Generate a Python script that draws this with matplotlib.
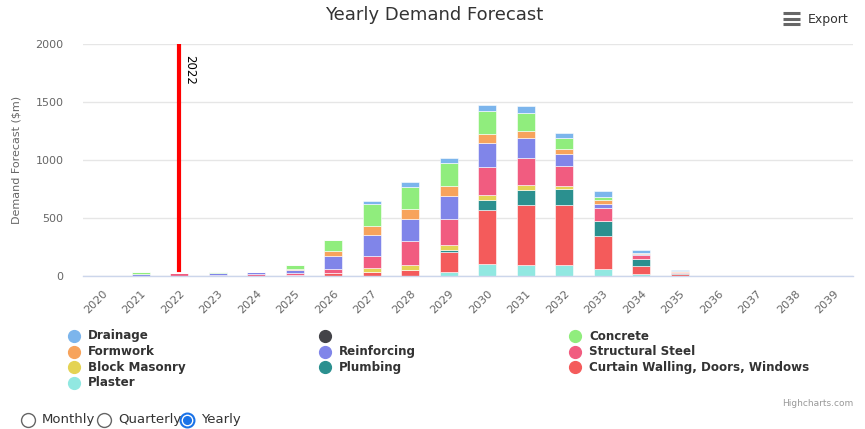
import numpy as np
import matplotlib
matplotlib.use("Agg")
import matplotlib.pyplot as plt
from matplotlib.lines import Line2D

plt.rcParams['font.family'] = ['DejaVu Sans']

years = [str(y) for y in range(2020, 2040)]

drainage    = [0, 0, 0, 0, 0, 0, 0, 30, 45, 45, 47, 56, 46, 45, 25, 12, 0, 0, 0, 0]
unnamed     = [0] * 20
concrete    = [0, 14, 0, 14, 0, 32, 100, 190, 190, 198, 197, 160, 96, 28, 6, 4, 0, 0, 0, 0]
formwork    = [0, 0, 0, 0, 0, 8, 40, 75, 80, 86, 82, 62, 43, 34, 4, 3, 0, 0, 0, 0]
reinforcing = [0, 16, 0, 16, 16, 24, 110, 185, 190, 198, 208, 170, 102, 34, 6, 4, 0, 0, 0, 0]
structural  = [0, 4, 20, 6, 16, 18, 32, 105, 210, 220, 240, 230, 176, 111, 35, 6, 0, 0, 0, 0]
block       = [0, 0, 0, 0, 0, 0, 0, 30, 45, 43, 43, 46, 26, 0, 0, 0, 0, 0, 0, 0]
plumbing    = [0, 0, 0, 0, 0, 0, 0, 0, 0, 22, 81, 124, 132, 128, 62, 6, 0, 0, 0, 0]
curtain     = [0, 0, 3, 0, 0, 12, 30, 35, 50, 165, 472, 518, 518, 289, 68, 16, 0, 0, 0, 0]
plaster     = [0, 0, 0, 0, 0, 0, 0, 0, 0, 38, 100, 98, 98, 60, 20, 4, 0, 0, 0, 0]

series_names = ["Drainage", "", "Concrete", "Formwork", "Reinforcing", "Structural Steel",
                "Block Masonry", "Plumbing", "Curtain Walling, Doors, Windows", "Plaster"]
series_data = [drainage, unnamed, concrete, formwork, reinforcing, structural,
               block, plumbing, curtain, plaster]
colors = ["#7cb5ec", "#434348", "#90ed7d", "#f7a35c", "#8085e9", "#f15c80",
          "#e4d354", "#2b908f", "#f45b5b", "#91e8e1"]

plotline_year = "2022"
y_ticks = [0, 500, 1000, 1500, 2000]

W, H = 865, 429
fig = plt.figure(figsize=(W / 100, H / 100), dpi=100)

def fx(x):
    return x / W

def fy(y):
    return 1 - y / H

ax = fig.add_axes([fx(83), fy(276), fx(853) - fx(83), fy(44) - fy(276)])

x = np.arange(len(years))
bottom = np.zeros(len(years))
# Highcharts stacks the first series on top: draw from last to first
for name, data, c in reversed(list(zip(series_names, series_data, colors))):
    vals = np.array(data, dtype=float)
    ax.bar(x, vals, bottom=bottom, width=0.47, color=c, edgecolor="white",
           linewidth=0.4, zorder=2)
    bottom += vals

# plot line
pl_idx = years.index(plotline_year)
ax.axvline(pl_idx, ymin=0.028, ymax=1, color="red", lw=3, zorder=1.5)
ax.text(pl_idx + 0.1, 1905, plotline_year, rotation=-90, ha="left", va="top",
        fontsize=8.5, color="black", zorder=3)

ax.set_xlim(-0.5, len(years) - 0.5)
ax.set_ylim(0, 2000)
ax.set_yticks(y_ticks)
ax.set_yticklabels([str(v) for v in y_ticks])
ax.set_xticks(x)
ax.set_xticklabels(years, rotation=45, ha="right", rotation_mode="anchor")
ax.tick_params(axis="x", length=0, pad=9, labelsize=8, labelcolor="#666666")
ax.tick_params(axis="y", length=0, pad=14, labelsize=8, labelcolor="#666666")
ax.grid(axis="y", color="#e6e6e6", lw=1, zorder=0)
ax.set_axisbelow(True)
for s in ["top", "right", "left"]:
    ax.spines[s].set_visible(False)
ax.spines["bottom"].set_color("#ccd6eb")
ax.spines["bottom"].set_linewidth(1)
ax.spines["bottom"].set_zorder(5)
ax.set_ylabel("Demand Forecast ($m)", fontsize=8, color="#666666", labelpad=10)

# Title
fig.text(fx(434), fy(15), "Yearly Demand Forecast", ha="center", va="center",
         fontsize=13, color="#333333")

# Export button
for yy in [13, 18.5, 24]:
    fig.add_artist(Line2D([fx(783), fx(800)], [fy(yy), fy(yy)], color="#666666",
                          lw=2.2, solid_capstyle="butt"))
fig.text(fx(808), fy(19), "Export", ha="left", va="center", fontsize=9, color="#333333")

# Legend
col_x = [74, 325, 575]
row_y = [336, 351.5, 367, 382.5]
for i, (name, c) in enumerate(zip(series_names, colors)):
    r, col = divmod(i, 3)
    mx, my = col_x[col], row_y[r]
    fig.add_artist(Line2D([fx(mx)], [fy(my)], marker="o", markersize=8.5,
                          color=c, linestyle="none"))
    if name:
        fig.text(fx(mx + 14), fy(my), name, ha="left", va="center",
                 fontsize=8.6, fontweight="bold", color="#333333")

# Credits
fig.text(fx(853), fy(404), "Highcharts.com", ha="right", va="center",
         fontsize=6.5, color="#999999")

# Radio buttons
radio_labels = ["Monthly", "Quarterly", "Yearly"]
radio_x = [28, 104, 187]
selected = "Yearly"
for lab, rx in zip(radio_labels, radio_x):
    if lab == selected:
        fig.add_artist(Line2D([fx(rx)], [fy(420)], marker="o", markersize=10,
                              markerfacecolor="white", markeredgecolor="#1a73e8",
                              markeredgewidth=1.5, linestyle="none"))
        fig.add_artist(Line2D([fx(rx)], [fy(420)], marker="o", markersize=5.5,
                              color="#1a73e8", linestyle="none"))
    else:
        fig.add_artist(Line2D([fx(rx)], [fy(420)], marker="o", markersize=10,
                              markerfacecolor="white", markeredgecolor="#666666",
                              markeredgewidth=1, linestyle="none"))
    fig.text(fx(rx + 14), fy(420), lab, ha="left", va="center", fontsize=9.5,
             color="#333333")

fig.savefig("out.png", dpi=100)
